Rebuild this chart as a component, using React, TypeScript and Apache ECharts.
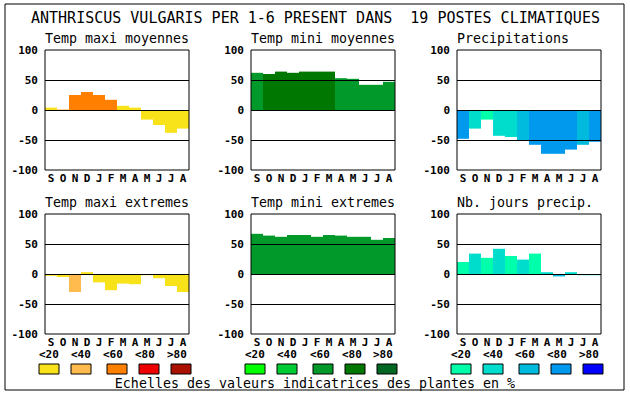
import React, { useEffect, useRef } from "react";
import * as echarts from "echarts";

const months = ["S", "O", "N", "D", "J", "F", "M", "A", "M", "J", "J", "A"];
const yTicks = [-100, -50, 0, 50, 100];
const legendLabels = ["<20", "<40", "<60", "<80", ">80"];

const titleText = "ANTHRISCUS VULGARIS PER 1-6 PRESENT DANS  19 POSTES CLIMATIQUES";
const footerText = "Echelles des valeurs indicatrices des plantes en %";

const panelTitles = [
  "Temp maxi moyennes",
  "Temp mini moyennes",
  "Precipitations",
  "Temp maxi extremes",
  "Temp mini extremes",
  "Nb. jours precip.",
];

// values (%)
const tmaxMoy = [4, 1, 25, 30, 25, 17, 7, 4, -16, -25, -38, -31];
const tminMoy = [62, 60, 64, 62, 64, 64, 64, 53, 52, 42, 42, 47];
const precip = [-48, -31, -16, -43, -45, -50, -58, -73, -73, -66, -58, -53];
const tmaxExt = [-3, -5, -30, 3, -14, -27, -16, -17, -2, -7, -20, -30];
const tminExt = [67, 64, 62, 65, 65, 62, 65, 64, 62, 62, 57, 60];
const nbJours = [20, 34, 27, 42, 30, 24, 34, 3, -4, 3, -2, -2];

// class index (0..4 => <20 .. >80)
const tmaxMoyCls = [0, 1, 2, 2, 2, 2, 0, 0, 0, 0, 0, 0];
const tminMoyCls = [2, 3, 3, 3, 3, 3, 3, 2, 2, 2, 2, 2];
const precipCls = [3, 1, 0, 1, 1, 2, 3, 3, 3, 3, 2, 3];
const tmaxExtCls = [0, 0, 1, 0, 0, 0, 0, 0, 0, 0, 0, 0];
const tminExtCls = [2, 2, 2, 2, 2, 2, 2, 2, 2, 2, 2, 2];
const nbJoursCls = [0, 1, 0, 1, 0, 1, 0, 1, 2, 1, 1, 1];

const warm = ["#f8e21a", "#ffbb4d", "#ff7f00", "#ee0000", "#aa1100"];
const green = ["#00ff00", "#00cc33", "#00992a", "#007700", "#006622"];
const blue = ["#00ffaa", "#00ddcc", "#00bbdd", "#0099ee", "#0000ff"];

const MONO = "DejaVu Sans Mono";

export default function App() {
  const ref = useRef<HTMLDivElement>(null);
  useEffect(() => {
    if (!ref.current) return;
    const chart = echarts.init(ref.current, null, { renderer: "svg" });

    const panels = [
      { v: tmaxMoy, c: tmaxMoyCls, pal: warm },
      { v: tminMoy, c: tminMoyCls, pal: green },
      { v: precip, c: precipCls, pal: blue },
      { v: tmaxExt, c: tmaxExtCls, pal: warm },
      { v: tminExt, c: tminExtCls, pal: green },
      { v: nbJours, c: nbJoursCls, pal: blue },
    ];
    const lefts = [45, 251, 457];
    const tops = [50, 214];
    const W = 144;
    const H = 120;

    const grids: any[] = [];
    const xAxes: any[] = [];
    const yAxes: any[] = [];
    const series: any[] = [];
    const graphics: any[] = [];

    panels.forEach((p, i) => {
      const left = lefts[i % 3];
      const top = tops[Math.floor(i / 3)];
      grids.push({
        left,
        top,
        width: W,
        height: H,
        show: true,
        backgroundColor: "#fff",
        borderWidth: 0,
        containLabel: false,
      });
      xAxes.push({
        type: "category",
        gridIndex: i,
        data: months,
        axisLine: { show: false },
        axisTick: { show: false },
        axisLabel: {
          interval: 0,
          margin: 3,
          color: "#000",
          fontFamily: MONO,
          fontWeight: "bold",
          fontSize: 11,
        },
        splitLine: { show: false },
      });
      yAxes.push({
        type: "value",
        gridIndex: i,
        min: yTicks[0],
        max: yTicks[yTicks.length - 1],
        interval: 50,
        axisLine: { show: false },
        axisTick: { show: false },
        splitLine: { show: false },
        axisLabel: {
          margin: 7,
          color: "#000",
          fontFamily: MONO,
          fontWeight: "bold",
          fontSize: 11,
        },
      });
      series.push({
        type: "bar",
        xAxisIndex: i,
        yAxisIndex: i,
        barWidth: "100%",
        barCategoryGap: 0,
        data: p.v.map((val, k) => ({
          value: val,
          itemStyle: { color: p.pal[p.c[k]] },
        })),
        markLine: {
          silent: true,
          symbol: "none",
          label: { show: false },
          lineStyle: { color: "#000", width: 1, type: "solid" },
          data: [{ yAxis: 50 }, { yAxis: 0 }, { yAxis: -50 }],
        },
        z: 2,
      });
      graphics.push({
        type: "rect",
        shape: { x: left, y: top, width: W, height: H },
        style: { fill: "none", stroke: "#000", lineWidth: 1 },
        z: 100,
        silent: true,
      });
      graphics.push({
        type: "text",
        x: left,
        y: top - 12,
        style: {
          text: panelTitles[i],
          font: `13.3px "${MONO}"`,
          fill: "#000",
          textVerticalAlign: "middle",
          verticalAlign: "middle",
        },
      });
    });

    // outer border
    graphics.push({
      type: "rect",
      shape: { x: 5, y: 4, width: 619, height: 386 },
      style: { fill: "none", stroke: "#000", lineWidth: 1 },
      z: 100,
      silent: true,
    });
    // main title
    graphics.push({
      type: "text",
      x: 31,
      y: 18,
      style: {
        text: titleText,
        font: `15px "${MONO}"`,
        fill: "#000",
        verticalAlign: "middle",
      },
    });
    // footer
    graphics.push({
      type: "text",
      x: 315,
      y: 383,
      style: {
        text: footerText,
        font: `13.3px "${MONO}"`,
        fill: "#000",
        align: "center",
        verticalAlign: "middle",
      },
    });

    // legends
    const legendLabelX = [
      [39, 71, 103, 135, 167],
      [245, 277, 310, 342, 373],
      [451, 483, 515, 547, 579],
    ];
    const legendBoxX = [
      [39, 71, 107, 139, 171],
      [245, 277, 313, 345, 377],
      [451, 483, 519, 551, 583],
    ];
    const pals = [warm, green, blue];
    pals.forEach((pal, g) => {
      pal.forEach((col, k) => {
        graphics.push({
          type: "text",
          x: legendLabelX[g][k],
          y: 354,
          style: {
            text: legendLabels[k],
            font: `bold 11px "${MONO}"`,
            fill: "#000",
            verticalAlign: "middle",
          },
        });
        graphics.push({
          type: "rect",
          shape: { x: legendBoxX[g][k], y: 364, width: 20, height: 10 },
          style: { fill: col, stroke: "#000", lineWidth: 1 },
        });
      });
    });

    chart.setOption({
      animation: false,
      backgroundColor: "#fff",
      grid: grids,
      xAxis: xAxes,
      yAxis: yAxes,
      series,
      graphic: graphics,
    });
    return () => chart.dispose();
  }, []);

  return (
    <div
      ref={ref}
      style={{ position: "fixed", left: 0, top: 0, width: 630, height: 394, background: "#fff" }}
    />
  );
}
